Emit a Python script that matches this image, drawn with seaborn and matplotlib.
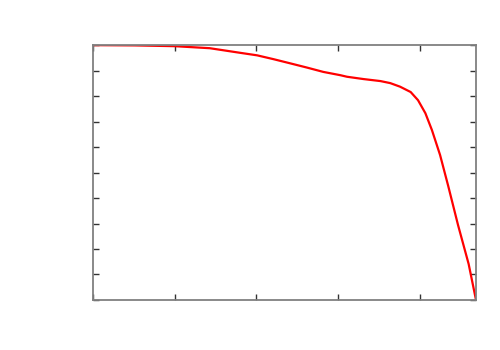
import seaborn as sns
import matplotlib.pyplot as plt
import pandas as pd

# curve values (x in tick units, y as fraction of axis)
x_vals = [0.0, 0.51, 1.0, 1.43, 1.80, 2.01, 2.21, 2.41, 2.62, 2.82, 3.03,
          3.11, 3.31, 3.52, 3.64, 3.76, 3.89, 3.98, 4.07, 4.15, 4.25,
          4.35, 4.47, 4.60, 4.69]
y_vals = [1.0, 0.999, 0.996, 0.988, 0.970, 0.960, 0.945, 0.929, 0.912, 0.895, 0.882,
          0.876, 0.867, 0.859, 0.851, 0.837, 0.816, 0.784, 0.733, 0.667, 0.569,
          0.447, 0.294, 0.141, 0.0]
x_ticks = [0, 1, 2, 3, 4]
y_ticks = [i / 10 for i in range(11)]

df = pd.DataFrame({'x': x_vals, 'y': y_vals})

sns.set_style('white')
fig = plt.figure(figsize=(5, 3.5), dpi=100)
ax = fig.add_axes([0.186, 0.143, 0.766, 0.728])

sns.lineplot(data=df, x='x', y='y', color='red', linewidth=1.6, ax=ax)

ax.set_xlim(0, 4.69)
ax.set_ylim(0, 1)
ax.set_xticks(x_ticks)
ax.set_yticks(y_ticks)
ax.set_xticklabels([])
ax.set_yticklabels([])
ax.set_xlabel('')
ax.set_ylabel('')
ax.tick_params(direction='in', length=4, width=1, color='#333333',
               top=True, right=True, bottom=True, left=True)
for s in ax.spines.values():
    s.set_color('#808080')
    s.set_linewidth(1.3)
    s.set_visible(True)

fig.savefig('out.png', dpi=100)
